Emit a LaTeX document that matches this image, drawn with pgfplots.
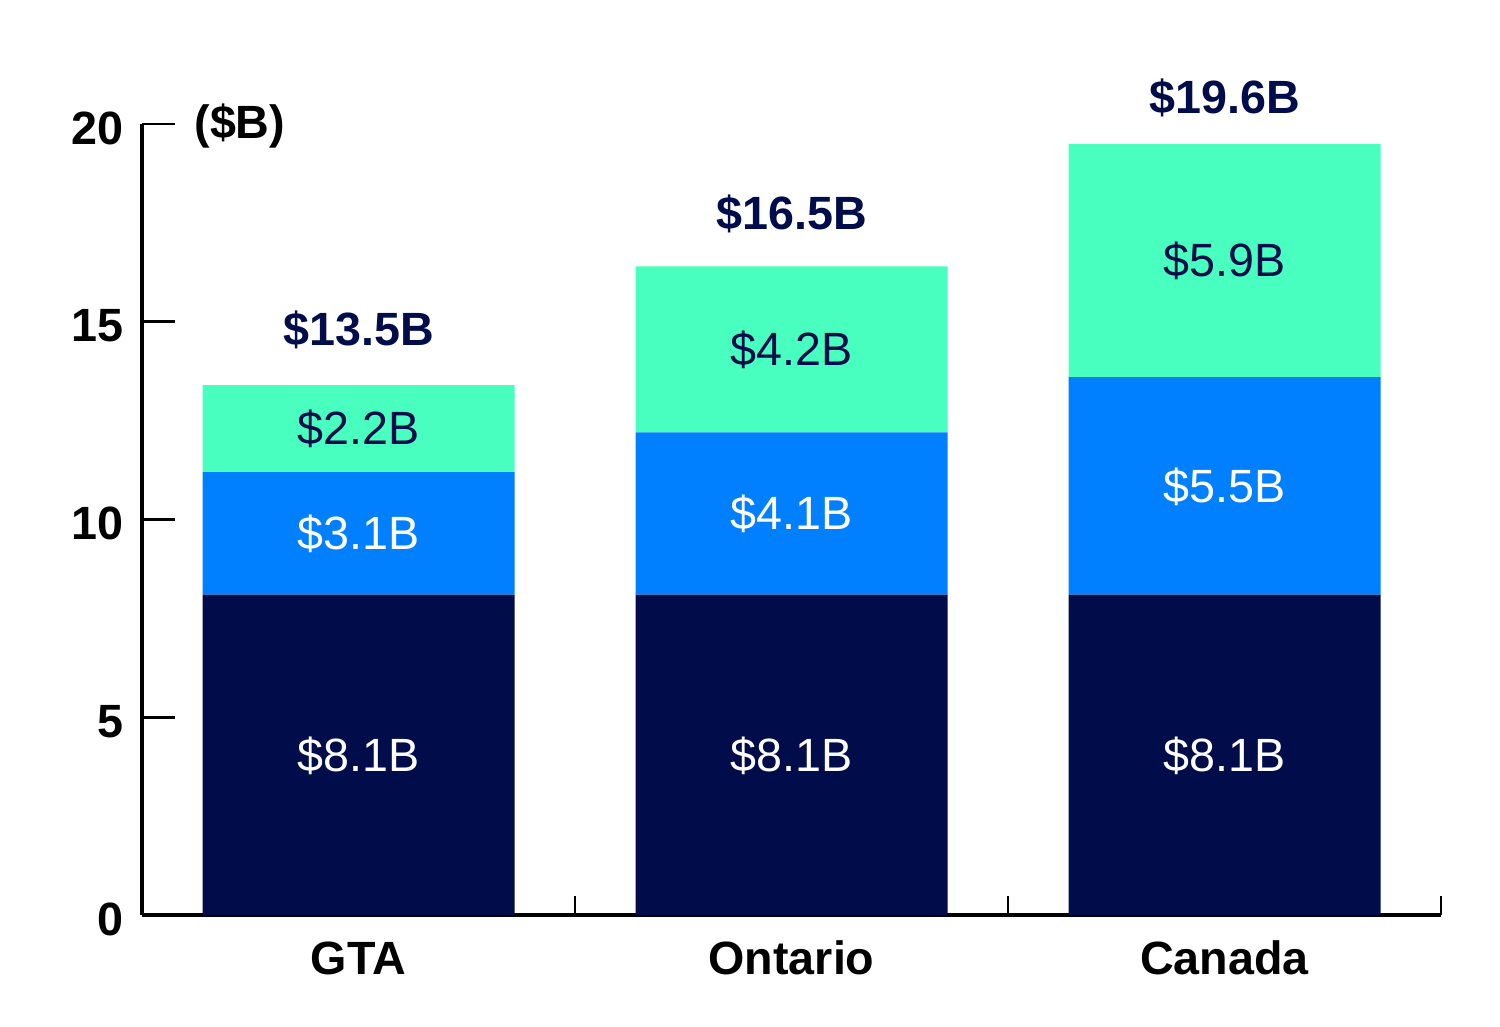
\documentclass[border=0pt]{standalone}
\usepackage{pgfplots}
\pgfplotsset{compat=1.18}
\usepackage{fontspec}
\setmainfont{Liberation Sans}
\definecolor{navy}{HTML}{000D4A}
\definecolor{midblue}{HTML}{0080FF}
\definecolor{mint}{HTML}{48FFBF}
\newcommand{\lbl}{\fontsize{16.8}{16.8}\selectfont}
\newcommand{\blbl}{\fontsize{16.8}{16.8}\selectfont\bfseries}
\begin{document}
\begin{tikzpicture}
\begin{axis}[
  scale only axis,
  width=467.64pt, height=284.76pt,
  xmin=-0.5, xmax=2.5, ymin=0, ymax=20,
  ybar stacked, bar width=112.32pt,
  clip=false,
  axis lines*=left,
  axis line style={-, line width=1.1pt},
  tick align=inside,
  tick style={black, line width=1pt},
  ytick={0,5,...,20},
  ytick style={/pgfplots/major tick length=11.9pt},
  yticklabel style={font=\blbl, xshift=-3pt, yshift=-1.5pt},
  /pgf/number format/assume math mode=true,
  xtick={0.5,1.5,2.5},
  xticklabels={},
  xtick style={/pgfplots/major tick length=6.8pt},
  xticklabel style={font=\blbl, anchor=base, yshift=-21.4pt},
  extra x ticks={0,1,2},
  extra x tick labels={GTA,Ontario,Canada},
  extra x tick style={tick style={draw=none}},
]
% Bottom segment
\addplot[fill=navy, draw=none] coordinates {(0,8.1) (1,8.1) (2,8.1)};
% Middle segment
\addplot[fill=midblue, draw=none] coordinates {(0,3.1) (1,4.1) (2,5.5)};
% Top segment
\addplot[fill=mint, draw=none] coordinates {(0,2.2) (1,4.2) (2,5.9)};

% anchor points for the labels (drawn after the axis, above the bars)
\coordinate (a0) at (axis cs:0,3.63);
\coordinate (a1) at (axis cs:1,3.63);
\coordinate (a2) at (axis cs:2,3.63);
\coordinate (b0) at (axis cs:0,9.24);
\coordinate (b1) at (axis cs:1,9.74);
\coordinate (b2) at (axis cs:2,10.44);
\coordinate (c0) at (axis cs:0,11.89);
\coordinate (c1) at (axis cs:1,13.89);
\coordinate (c2) at (axis cs:2,16.14);

% Totals
\node[anchor=base, navy, font=\blbl] at (axis cs:0,14.40) {\$13.5B};
\node[anchor=base, navy, font=\blbl] at (axis cs:1,17.33) {\$16.5B};
\node[anchor=base, navy, font=\blbl] at (axis cs:2,20.26) {\$19.6B};

% Unit label
\node[anchor=base, font=\blbl] at (axis cs:-0.274,19.64) {(\$B)};

\coordinate (sw) at (rel axis cs:0,0);
\coordinate (ne) at (rel axis cs:1,1);
\end{axis}

% Segment labels
\foreach \p/\t in {a0/8.1, a1/8.1, a2/8.1, b0/3.1, b1/4.1, b2/5.5}
  \node[anchor=base, white, font=\lbl] at (\p) {\$\t B};
\foreach \p/\t in {c0/2.2, c1/4.2, c2/5.9}
  \node[anchor=base, navy, font=\lbl] at (\p) {\$\t B};

\pgfresetboundingbox
\path[use as bounding box] ([xshift=-51.12pt,yshift=-39.96pt]sw) rectangle ([xshift=21.24pt,yshift=44.64pt]ne);
\end{tikzpicture}
\end{document}
